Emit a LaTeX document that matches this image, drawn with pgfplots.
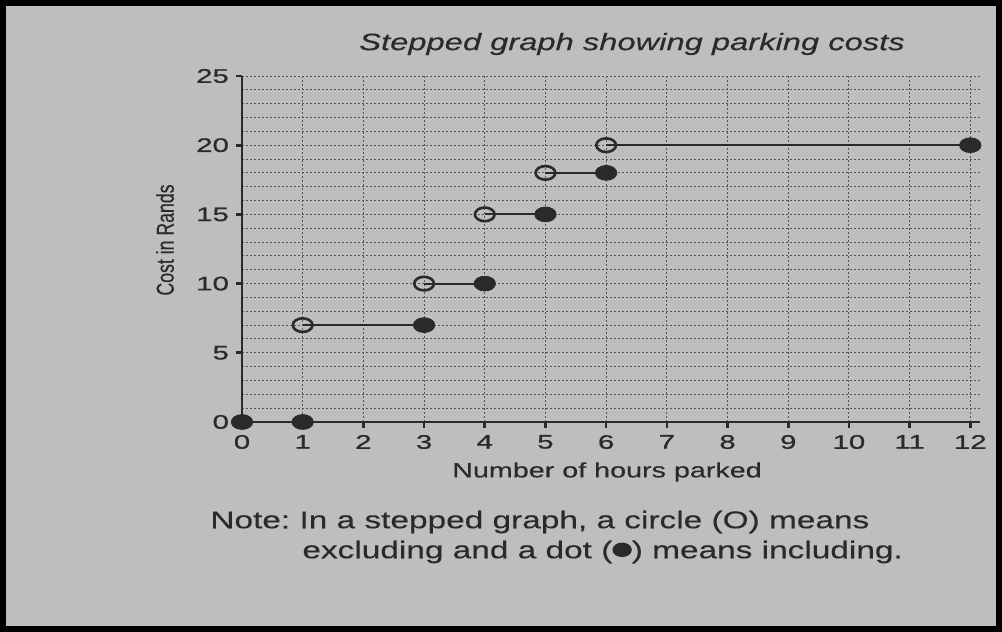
\documentclass[border=0pt]{standalone}
\usepackage{pgfplots}
\pgfplotsset{compat=1.18}
\usepackage{fontspec}
\setmainfont{Liberation Sans}
% the photo is stretched sideways, so the fonts are too
\newfontfamily\widefont[FakeStretch=1.38,FakeBold=0.3]{Liberation Sans}
\newfontfamily\tickfont[FakeStretch=1.5,FakeBold=0.8]{Liberation Sans}
\newfontfamily\ylabfont[FakeStretch=0.725,FakeBold=0.3]{Liberation Sans}
\definecolor{paper}{HTML}{BEBEBE}
\definecolor{ink}{HTML}{2A2A2A}
\frenchspacing
\begin{document}
\begin{tikzpicture}[x=0.5pt,y=0.5pt]
\useasboundingbox (0,0) rectangle (1002,632);
\fill[paper] (0,0) rectangle (1002,632);
\draw[black,line width=3pt] (3,3) rectangle (999,629);
\begin{axis}[
    at={(121pt,105pt)}, anchor=south west,
    scale only axis,
    width=369pt, height=173pt,
    xmin=0, xmax=12.16,
    ymin=0, ymax=25,
    axis lines=left,
    axis line style={-, line width=1.3pt, ink},
    xtick={0,1,...,12},
    ytick={0,5,...,25},
    minor y tick num=4,
    grid=both,
    major grid style={ink!80, line width=0.5pt, dash pattern=on 1pt off 1pt},
    minor grid style={ink!80, line width=0.5pt, dash pattern=on 1pt off 1pt},
    tick align=outside,
    major tick length=3pt,
    minor tick length=0pt,
    tick style={line width=1.3pt, ink},
    /pgf/number format/assume math mode=true,
    ticklabel style={font=\tickfont\fontsize{9.8}{10}\selectfont, text=ink},
    clip=false,
]
\addplot[ink, line width=1pt] coordinates {(0,0) (1,0)};
\addplot[ink, line width=1pt] coordinates {(1,7) (3,7)};
\addplot[ink, line width=1pt] coordinates {(3,10) (4,10)};
\addplot[ink, line width=1pt] coordinates {(4,15) (5,15)};
\addplot[ink, line width=1pt] coordinates {(5,18) (6,18)};
\addplot[ink, line width=1pt] coordinates {(6,20) (12,20)};
% circle = excluding
\addplot[only marks, mark=o, mark size=3.4pt,
    mark options={draw=ink, fill=paper, line width=1.3pt, xscale=1.45}]
    coordinates {(1,7) (3,10) (4,15) (5,18) (6,20)};
% dot = including
\addplot[only marks, mark=*, mark size=3.7pt,
    mark options={draw=ink, fill=ink, xscale=1.45}]
    coordinates {(0,0) (1,0) (3,7) (4,10) (5,15) (6,18) (12,20)};
\end{axis}
\node[text=ink, font=\widefont\itshape\fontsize{11.85}{12}\selectfont] at (632,588) {Stepped graph showing parking costs};
\node[text=ink, font=\ylabfont\fontsize{12.2}{12}\selectfont, rotate=90] at (165,392) {Cost in Rands};
\node[text=ink, font=\widefont\fontsize{10.4}{12}\selectfont] at (607,160) {Number of hours parked};
\node[text=ink, font=\widefont\fontsize{12.1}{12}\selectfont, anchor=west, inner sep=0pt] at (210,110) {Note: In a stepped graph, a circle (O) means};
\node[text=ink, font=\widefont\fontsize{12.1}{12}\selectfont, anchor=west, inner sep=0pt] at (302,80) {excluding and a dot (\raisebox{0.05em}{\tikz\fill[ink] (0,0) ellipse (0.4em and 0.3em);}) means including.};
\end{tikzpicture}
\end{document}
